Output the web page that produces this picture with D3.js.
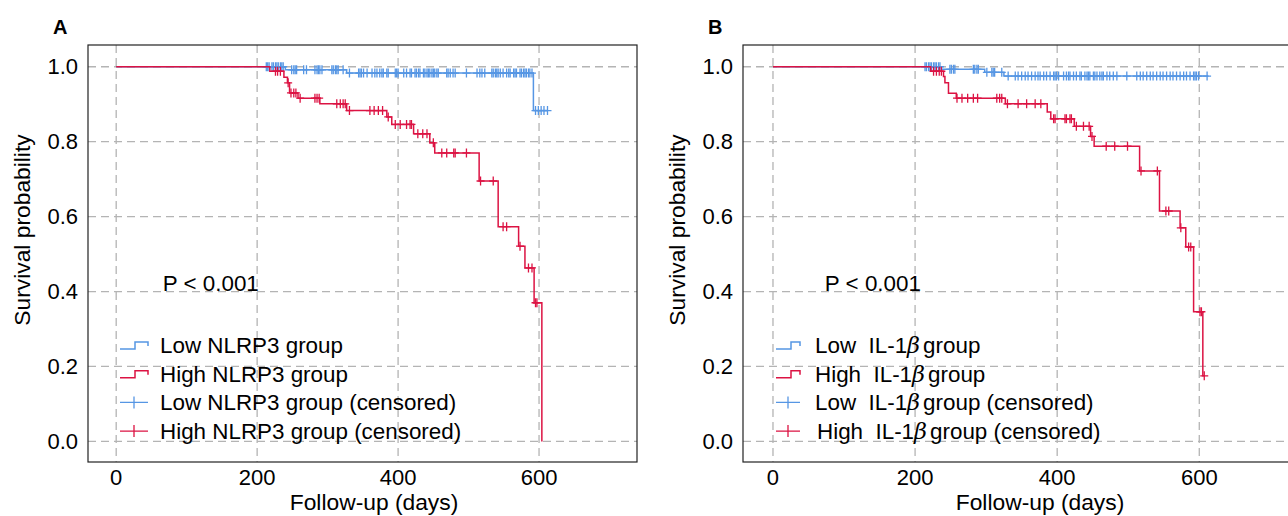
<!DOCTYPE html>
<html>
<head>
<meta charset="utf-8">
<script src="https://cdn.jsdelivr.net/npm/d3@7"></script>
<style>
  body { margin: 0; background: #fff; }
  svg { font-family: "Liberation Sans", Arial, sans-serif; }
</style>
</head>
<body>
<div id="chart"></div>
<script>
// ---- data (days, survival probability) ----
// steps: [time of event, survival after event]
let nlrp3LowSteps = [[0, 1.0], [240, 0.992], [327, 0.983], [592, 0.883]];
let nlrp3LowEnd = 612;
let nlrp3LowCensor = [213, 215, 217, 221, 223, 226, 228, 230, 233, 235, 237,
    249, 252, 254, 256, 266, 270, 282, 285, 287, 289, 292, 306, 308, 311, 313, 315, 322,
    331, 344, 346, 348, 351, 356, 363, 367, 370, 374, 377, 379, 384, 386, 396, 398, 400,
    408, 412, 417, 419, 424, 426, 429, 431, 436, 438, 441, 443, 445, 448, 450, 452, 455,
    457, 469, 471, 474, 478, 481, 497, 512, 516, 519, 523, 533, 535, 538, 540, 542, 545,
    549, 554, 557, 559, 564, 566, 568, 573, 575, 578, 580, 582, 585, 587, 590,
    595, 599, 603, 607, 612];

let nlrp3HighSteps = [[0, 1.0], [218, 0.988], [238, 0.972], [243, 0.957], [246, 0.930],
    [258, 0.916], [289, 0.901], [327, 0.883], [384, 0.866], [391, 0.846], [422, 0.821],
    [445, 0.797], [452, 0.770], [515, 0.695], [542, 0.573], [571, 0.521], [580, 0.463],
    [593, 0.370], [604, 0.0]];
let nlrp3HighEnd = 604;
let nlrp3HighCensor = [226, 229, 233, 244, 248, 252, 255, 261, 282, 285, 288,
    313, 318, 322, 325, 331, 360, 366, 372, 378, 386, 396, 403, 412, 417, 419,
    428, 435, 441, 450, 462, 469, 479, 481, 497, 517, 535, 549, 554, 573, 585, 590, 595, 597];

let il1bLowSteps = [[0, 1.0], [237, 0.993], [298, 0.985], [325, 0.975]];
let il1bLowEnd = 613;
let il1bLowCensor = [214, 216, 219, 221, 223, 226, 228, 230, 233, 235,
    249, 251, 254, 256, 282, 284, 287, 289, 301, 308, 310, 312, 322,
    331, 341, 345, 350, 355, 359, 364, 369, 373, 376, 381, 385, 390, 395, 397, 399, 402,
    409, 413, 416, 418, 423, 427, 432, 434, 439, 442, 444, 446, 451, 453, 456, 460, 463,
    465, 470, 474, 479, 484, 498, 512, 517, 521, 526, 531, 535, 540, 545, 549, 554, 559,
    563, 568, 573, 578, 582, 587, 592, 594, 596, 599, 611];

let il1bHighSteps = [[0, 1.0], [222, 0.988], [240, 0.974], [242, 0.957], [247, 0.929],
    [258, 0.916], [327, 0.901], [386, 0.879], [391, 0.861], [424, 0.841], [447, 0.814],
    [452, 0.788], [516, 0.722], [544, 0.615], [573, 0.570], [581, 0.519], [592, 0.346],
    [605, 0.175]];
let il1bHighEnd = 607;
let il1bHighCensor = [226, 230, 234, 237, 259, 266, 274, 282, 288, 315, 319, 322,
    330, 345, 357, 369, 377, 395, 397, 411, 413, 418, 420, 427, 437, 445, 449,
    469, 481, 499, 518, 541, 553, 557, 574, 585, 588, 601, 603, 607];

let xTicks = [0, 200, 400, 600];
let yTicks = [0.0, 0.2, 0.4, 0.6, 0.8, 1.0];

let blue = "#5696e4", red = "#dc1343";

let width = 1288, height = 516;

let svg = d3.select("#chart")
    .append("svg")
    .attr("width", width)
    .attr("height", height);

function survAt(steps, t) {
    let s = steps[0][1];
    for (let i = 0; i < steps.length; i++) {
        if (steps[i][0] <= t) s = steps[i][1];
    }
    return s;
}

function drawPanel(p) {
    let x = d3.scaleLinear().domain(p.xDomain).range([p.left, p.right]);
    let y = d3.scaleLinear().domain([-0.055, 1.058]).range([462, 45]);
    let g = svg.append("g");

    let clipId = "clip" + p.letter;
    g.append("defs").append("clipPath").attr("id", clipId)
        .append("rect")
        .attr("x", p.left).attr("y", 45)
        .attr("width", p.right - p.left).attr("height", 417);

    // grid
    g.selectAll(".vgrid").data(xTicks).enter().append("line")
        .attr("x1", d => x(d)).attr("x2", d => x(d))
        .attr("y1", 45).attr("y2", 462)
        .attr("stroke", "#b4b4b4").attr("stroke-width", 1.3)
        .attr("stroke-dasharray", "8,5");
    g.selectAll(".hgrid").data(yTicks).enter().append("line")
        .attr("x1", p.left).attr("x2", p.right)
        .attr("y1", d => y(d)).attr("y2", d => y(d))
        .attr("stroke", "#b4b4b4").attr("stroke-width", 1.3)
        .attr("stroke-dasharray", "8,5");

    // curves
    let line = d3.line()
        .x(d => x(d[0])).y(d => y(d[1]))
        .curve(d3.curveStepAfter);

    let plot = g.append("g").attr("clip-path", "url(#" + clipId + ")");
    p.groups.forEach(function (grp) {
        let pts = grp.steps.slice();
        pts.push([grp.end, grp.steps[grp.steps.length - 1][1]]);
        plot.append("path")
            .datum(pts)
            .attr("d", line)
            .attr("fill", "none")
            .attr("stroke", grp.color)
            .attr("stroke-width", 1.5);
        plot.selectAll(null)
            .data(grp.censor)
            .enter()
            .append("path")
            .attr("d", function (t) {
                let cx = x(t), cy = y(survAt(grp.steps, t));
                return "M" + (cx - 4) + "," + cy + "H" + (cx + 4) +
                    "M" + cx + "," + (cy - 4.5) + "V" + (cy + 4.5);
            })
            .attr("stroke", grp.color)
            .attr("stroke-width", 1.3);
    });

    // frame
    g.append("rect")
        .attr("x", p.left).attr("y", 45)
        .attr("width", p.right - p.left).attr("height", 417)
        .attr("fill", "none").attr("stroke", "#222").attr("stroke-width", 1.2);

    // tick labels
    g.selectAll(".xt").data(xTicks).enter().append("text")
        .attr("x", d => x(d)).attr("y", 485)
        .attr("text-anchor", "middle")
        .style("font-size", "22px")
        .text(d => d);
    g.selectAll(".yt").data(yTicks).enter().append("text")
        .attr("x", p.left - 10).attr("y", d => y(d))
        .attr("dy", "0.35em")
        .attr("text-anchor", "end")
        .style("font-size", "22px")
        .text(d => d.toFixed(1));

    // axis titles
    g.append("text")
        .attr("x", p.xLabelX).attr("y", 510)
        .attr("text-anchor", "middle")
        .style("font-size", "22.8px")
        .text("Follow-up (days)");
    g.append("text")
        .attr("transform", "translate(" + (p.left - 66) + ",230) rotate(-90)")
        .attr("dy", "0.35em")
        .attr("text-anchor", "middle")
        .style("font-size", "22.8px")
        .text("Survival probability");

    // panel letter
    g.append("text")
        .attr("x", p.left - 35).attr("y", 34)
        .style("font-size", "20px").style("font-weight", "bold")
        .text(p.letter);

    // p value
    g.append("text")
        .attr("x", x(p.pX)).attr("y", 283).attr("dy", "0.35em")
        .style("font-size", "22.4px")
        .text("P < 0.001");

    // legend
    let lg = g.append("g");
    p.legend.forEach(function (item, i) {
        let ly = 345 + i * 28.7;
        let lx = p.legendX;
        if (item.type === "line") {
            lg.append("path")
                .attr("d", "M" + lx + "," + (ly + 4) + "H" + (lx + 15) + "V" + (ly - 3) +
                    "H" + (lx + p.symW) + "V" + (ly + 1))
                .attr("fill", "none").attr("stroke", item.color).attr("stroke-width", 1.5);
        } else {
            lg.append("path")
                .attr("d", "M" + lx + "," + ly + "H" + (lx + p.symW) +
                    "M" + (lx + p.symW / 2) + "," + (ly - 6) + "V" + (ly + 6))
                .attr("stroke", item.color).attr("stroke-width", 1.3);
        }
        let t = lg.append("text")
            .attr("x", p.textX + (item.shift || 0)).attr("y", ly).attr("dy", "0.35em")
            .style("font-size", "22.4px")
            .style("white-space", "pre");
        item.parts.forEach(function (pt) {
            let ts = t.append("tspan").text(pt.s);
            if (pt.it) ts.style("font-style", "italic").style("font-family", "'DejaVu Serif', serif");
            if (pt.gap) ts.attr("dx", pt.gap);
        });
    });
}

drawPanel({
    letter: "A",
    left: 88, right: 637, xDomain: [-40, 739],
    xLabelX: 374, pX: 66,
    legendX: 120, symW: 28, textX: 160,
    groups: [
        { steps: nlrp3LowSteps, end: nlrp3LowEnd, censor: nlrp3LowCensor, color: blue },
        { steps: nlrp3HighSteps, end: nlrp3HighEnd, censor: nlrp3HighCensor, color: red }
    ],
    legend: [
        { type: "line", color: blue, parts: [{ s: "Low NLRP3 group" }] },
        { type: "line", color: red, parts: [{ s: "High NLRP3 group" }] },
        { type: "cross", color: blue, parts: [{ s: "Low NLRP3 group (censored)" }] },
        { type: "cross", color: red, parts: [{ s: "High NLRP3 group (censored)" }] }
    ]
});

drawPanel({
    letter: "B",
    left: 743, right: 1292, xDomain: [-42.2, 730.5],
    xLabelX: 1040, pX: 73,
    legendX: 776, symW: 24, textX: 815,
    groups: [
        { steps: il1bLowSteps, end: il1bLowEnd, censor: il1bLowCensor, color: blue },
        { steps: il1bHighSteps, end: il1bHighEnd, censor: il1bHighCensor, color: red }
    ],
    legend: [
        { type: "line", color: blue, parts: [{ s: "Low  IL-1" }, { s: "β", it: true }, { s: "group", gap: 3 }] },
        { type: "line", color: red, parts: [{ s: "High  IL-1" }, { s: "β", it: true }, { s: "group", gap: 3 }] },
        { type: "cross", color: blue, parts: [{ s: "Low  IL-1" }, { s: "β", it: true }, { s: "group (censored)", gap: 3 }] },
        { type: "cross", color: red, shift: 2, parts: [{ s: "High  IL-1" }, { s: "β", it: true }, { s: "group (censored)", gap: 3 }] }
    ]
});
</script>
</body>
</html>
